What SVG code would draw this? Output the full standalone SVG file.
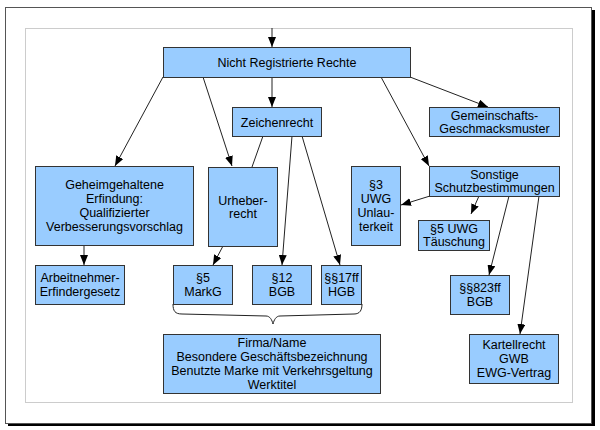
<svg xmlns="http://www.w3.org/2000/svg" width="600" height="430" viewBox="0 0 600 430">
<style>
.box{fill:#99ccff;stroke:#333333;stroke-width:1}
.t{font-family:"Liberation Sans",Arial,sans-serif;font-size:12.5px;fill:#000;text-anchor:middle}
.c{stroke:#222;stroke-width:1;fill:none}
.a{marker-end:url(#ah)}
</style>
<defs>
<marker id="ah" viewBox="0 0 10 8" refX="10" refY="4" markerWidth="10" markerHeight="8" markerUnits="userSpaceOnUse" orient="auto">
<path d="M0,0 L10,4 L0,8 Z" fill="#000"/>
</marker>
</defs>
<rect x="0" y="0" width="600" height="430" fill="#fff"/>
<rect x="591" y="10" width="4" height="416" fill="#000"/>
<rect x="8" y="423" width="587" height="3" fill="#000"/>
<rect x="5.5" y="7.5" width="586" height="416" fill="#fff" stroke="#555" stroke-width="1"/>
<rect x="25.5" y="28.5" width="547" height="374" fill="#fff" stroke="#cccccc" stroke-width="1"/>

<g id="connectors">
<line class="c a" x1="272" y1="28" x2="272" y2="47"/>
<line class="c a" x1="163" y1="77" x2="115" y2="166"/>
<line class="c a" x1="203" y1="77" x2="232" y2="166"/>
<line class="c a" x1="272" y1="77" x2="272" y2="107"/>
<line class="c a" x1="381" y1="77" x2="429" y2="166"/>
<line class="c a" x1="410" y1="77" x2="488" y2="107"/>
<line class="c" x1="263" y1="136" x2="252" y2="167"/>
<line class="c a" x1="292" y1="136" x2="282" y2="265"/>
<line class="c a" x1="302" y1="136" x2="340" y2="265"/>
<line class="c a" x1="223" y1="246" x2="213" y2="265"/>
<line class="c a" x1="84" y1="245" x2="84" y2="265"/>
<line class="c a" x1="430" y1="196" x2="401" y2="205"/>
<line class="c a" x1="479" y1="196" x2="471" y2="214"/>
<line class="c a" x1="509" y1="196" x2="489" y2="275"/>
<line class="c a" x1="539" y1="196" x2="520" y2="334"/>
<path class="c" d="M173,304 C173,311 175,314 182,314 L266,316 C270,316 272,320 273,324 C274,320 276,316 280,316 L354,314 C360,314 362,310 362,304"/>
</g>

<g id="n-nicht"><rect class="box" x="163.5" y="47.5" width="247" height="30"/><text class="t" x="287" y="67">Nicht Registrierte Rechte</text></g>
<g id="n-zeichen"><rect class="box" x="232.5" y="107.5" width="89" height="29"/><text class="t" x="277" y="126.5">Zeichenrecht</text></g>
<g id="n-gemein"><rect class="box" x="429.5" y="107.5" width="130" height="29"/><text class="t" x="494.5" y="119.5">Gemeinschafts-</text><text class="t" x="494.5" y="133">Geschmacksmuster</text></g>
<g id="n-geheim"><rect class="box" x="35.5" y="166.5" width="158" height="79"/><text class="t" x="114.5" y="189">Geheimgehaltene</text><text class="t" x="114.5" y="203">Erfindung:</text><text class="t" x="114.5" y="217">Qualifizierter</text><text class="t" x="114.5" y="231">Verbesserungsvorschlag</text></g>
<g id="n-urheber"><rect class="box" x="208.5" y="167.5" width="69" height="79"/><text class="t" x="243" y="204.5">Urheber-</text><text class="t" x="243" y="217.5">recht</text></g>
<g id="n-uwg3"><rect class="box" x="351.5" y="166.5" width="49" height="79"/><text class="t" x="376" y="189">§3</text><text class="t" x="376" y="203">UWG</text><text class="t" x="376" y="217">Unlau-</text><text class="t" x="376" y="231">terkeit</text></g>
<g id="n-sonstige"><rect class="box" x="429.5" y="166.5" width="130" height="30"/><text class="t" x="494.5" y="178.8">Sonstige</text><text class="t" x="494.5" y="192.3">Schutzbestimmungen</text></g>
<g id="n-uwg5"><rect class="box" x="418.5" y="220.5" width="71" height="30"/><text class="t" x="454" y="232.5">§5 UWG</text><text class="t" x="454" y="246">Täuschung</text></g>
<g id="n-arbeit"><rect class="box" x="35.5" y="265.5" width="89" height="39"/><text class="t" x="80" y="282.3">Arbeitnehmer-</text><text class="t" x="80" y="295.8">Erfindergesetz</text></g>
<g id="n-markg"><rect class="box" x="173.5" y="265.5" width="59" height="39"/><text class="t" x="203" y="282.3">§5</text><text class="t" x="203" y="295.8">MarkG</text></g>
<g id="n-bgb12"><rect class="box" x="252.5" y="265.5" width="59" height="39"/><text class="t" x="282" y="282.3">§12</text><text class="t" x="282" y="295.8">BGB</text></g>
<g id="n-hgb"><rect class="box" x="321.5" y="265.5" width="40" height="39"/><text class="t" x="341.5" y="282.3">§§17ff</text><text class="t" x="341.5" y="295.8">HGB</text></g>
<g id="n-bgb823"><rect class="box" x="450.5" y="275.5" width="59" height="39"/><text class="t" x="480" y="292.3">§§823ff</text><text class="t" x="480" y="305.8">BGB</text></g>
<g id="n-firma"><rect class="box" x="163.5" y="334.5" width="217" height="59"/><text class="t" x="272" y="347">Firma/Name</text><text class="t" x="272" y="361">Besondere Geschäftsbezeichnung</text><text class="t" x="272" y="375">Benutzte Marke mit Verkehrsgeltung</text><text class="t" x="272" y="389">Werktitel</text></g>
<g id="n-kartell"><rect class="box" x="469.5" y="334.5" width="89" height="49"/><text class="t" x="514" y="349">Kartellrecht</text><text class="t" x="514" y="363">GWB</text><text class="t" x="514" y="377">EWG-Vertrag</text></g>
</svg>
